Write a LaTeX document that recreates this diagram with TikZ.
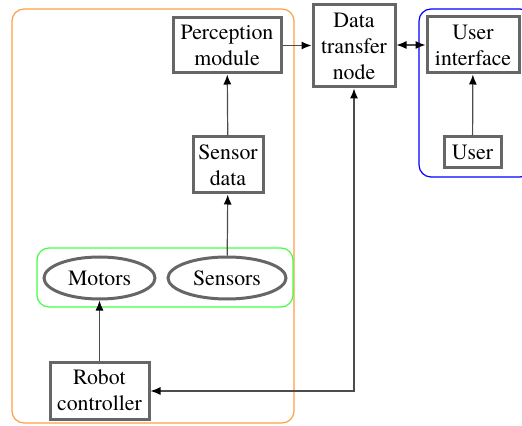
\documentclass[tikz,border=0pt]{standalone}
\usepackage{fontspec}
\setmainfont{texgyretermes}[Extension=.otf,UprightFont=*-regular,BoldFont=*-bold,ItalicFont=*-italic,BoldItalicFont=*-bolditalic]
\usetikzlibrary{shapes.geometric,arrows.meta}
\begin{document}
\begin{tikzpicture}[x=0.5pt,y=-0.5pt,
  every node/.style={font=\fontsize{10.9}{13}\selectfont},
  box/.style={draw=black!60,line width=1.5pt,fill=white,align=center,inner sep=0pt},
  oval/.style={ellipse,draw=black!60,line width=1.5pt,fill=white,inner sep=0pt},
  tip/.tip={Latex[length=5pt,width=4pt,black]},
  conn/.style={draw=black!70,line width=0.6pt,-tip},
  biconn/.style={draw=black!70,line width=0.6pt,tip-tip},
  grp/.style={rounded corners=6pt,line width=0.6pt}]
\useasboundingbox (0,0) rectangle (522,426);
% groups
\draw[grp,draw={rgb,255:red,255;green,160;blue,64}] (12,9) rectangle (294,423);
\draw[grp,draw=blue] (419,9) rectangle (532,177);
\draw[grp,draw={rgb,255:red,64;green,255;blue,64}] (37,248) rectangle (293,307);
% nodes
\node[box,minimum width=54pt,minimum height=27.5pt] (perc) at (227,45.5) {Perception\\module};
\node[box,minimum width=41pt,minimum height=41pt] (dtn) at (354,46) {Data\\transfer\\node};
\node[box,minimum width=46pt,minimum height=28pt] (ui) at (473,45) {User\\interface};
\node[box,minimum width=28.5pt,minimum height=15.5pt] (user) at (472.5,152.5) {User};
\node[box,minimum width=35pt,minimum height=28pt] (sd) at (228,165) {Sensor\\data};
\node[oval,minimum width=55.5pt,minimum height=21pt] (mot) at (99.5,278) {Motors};
\node[oval,minimum width=59pt,minimum height=21pt] (sen) at (227,278) {Sensors};
\node[box,minimum width=49.5pt,minimum height=28.5pt] (rc) at (99.5,390.5) {Robot\\controller};
\coordinate (corner) at (354,391);
% connectors
\draw[conn] (sd) -- (perc);
\draw[conn] (sen) -- (sd);
\draw[conn] (rc) -- (mot);
\draw[conn] (perc.east) -- (dtn.west |- perc.east);
\draw[biconn] (dtn.east |- ui.west) -- (ui.west);
\draw[conn] (user) -- (ui);
\draw[biconn] (dtn.south) -- (corner) -- (rc.east |- corner);
\end{tikzpicture}
\end{document}
